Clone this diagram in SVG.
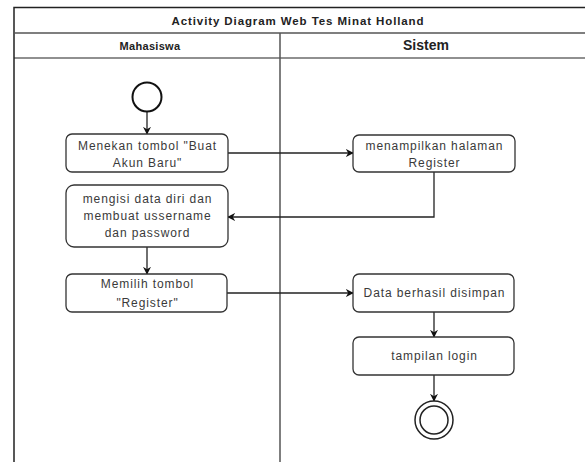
<svg xmlns="http://www.w3.org/2000/svg" width="585" height="462" viewBox="0 0 585 462">
<defs>
<style>
.frame{fill:none;stroke:#222;stroke-width:1.5}
.sep{stroke:#555;stroke-width:1.5}
.box{fill:#fff;stroke:#333;stroke-width:1.3}
.t{font-family:"Liberation Sans",Arial,sans-serif;font-size:12px;letter-spacing:0.9px;fill:#3a3a3a;text-anchor:middle}
.h{font-family:"Liberation Sans",Arial,sans-serif;font-weight:bold;fill:#222;text-anchor:middle}
.c{fill:none;stroke:#222;stroke-width:1.3}
</style>
<marker id="arr" viewBox="0 0 10 10" refX="9" refY="5" markerWidth="8" markerHeight="8" markerUnits="userSpaceOnUse" orient="auto">
<path d="M0,0 L10,5 L0,10 L3,5 Z" fill="#111"/>
</marker>
</defs>
<rect width="585" height="462" fill="#fff"/>
<g id="pool">
<path class="frame" d="M590,7.5 H14 V470"/>
<line class="sep" x1="14" y1="33" x2="590" y2="33"/>
<line class="sep" x1="14" y1="58" x2="590" y2="58" style="stroke:#222;stroke-width:1.2"/>
<line class="sep" x1="280" y1="33" x2="280" y2="470"/>
<text class="h" x="298" y="25" font-size="11.5" letter-spacing="0.9">Activity Diagram Web Tes Minat Holland</text>
<text class="h" x="150" y="50" font-size="11" letter-spacing="0.3">Mahasiswa</text>
<text class="h" x="426" y="50" font-size="14">Sistem</text>
</g>
<g id="connectors">
<line class="c" x1="147" y1="112" x2="147" y2="134" marker-end="url(#arr)"/>
<line class="c" x1="228" y1="153" x2="353" y2="153" marker-end="url(#arr)"/>
<polyline class="c" points="434,172 434,217 228,217" marker-end="url(#arr)"/>
<line class="c" x1="147" y1="247" x2="147" y2="274" marker-end="url(#arr)"/>
<line class="c" x1="227" y1="293" x2="353" y2="293" marker-end="url(#arr)"/>
<line class="c" x1="434" y1="312" x2="434" y2="337" marker-end="url(#arr)"/>
<line class="c" x1="434" y1="375" x2="434" y2="401" marker-end="url(#arr)"/>
</g>
<g id="start">
<circle cx="147" cy="97" r="14.5" fill="#fff" stroke="#111" stroke-width="2"/>
</g>
<g id="n1">
<rect class="box" x="66" y="134" width="162" height="38" rx="6"/>
<text class="t" x="147.5" y="150">Menekan tombol "Buat</text>
<text class="t" x="147.5" y="167">Akun Baru"</text>
</g>
<g id="n2">
<rect class="box" x="66" y="185" width="162" height="62" rx="8"/>
<text class="t" x="147.5" y="203">mengisi data diri dan</text>
<text class="t" x="147.5" y="220">membuat ussername</text>
<text class="t" x="147.5" y="237">dan password</text>
</g>
<g id="n3">
<rect class="box" x="353" y="135" width="162" height="37" rx="6"/>
<text class="t" x="434.5" y="150">menampilkan halaman</text>
<text class="t" x="434.5" y="167">Register</text>
</g>
<g id="n4">
<rect class="box" x="66" y="274" width="161" height="38" rx="6"/>
<text class="t" x="147.5" y="288">Memilih tombol</text>
<text class="t" x="147.5" y="307">"Register"</text>
</g>
<g id="n5">
<rect class="box" x="353" y="274" width="161" height="38" rx="6"/>
<text class="t" x="434.5" y="297">Data berhasil disimpan</text>
</g>
<g id="n6">
<rect class="box" x="353" y="337" width="161" height="38" rx="6"/>
<text class="t" x="434.5" y="360">tampilan login</text>
</g>
<g id="end">
<circle cx="434" cy="420" r="19" fill="#fff" stroke="#222" stroke-width="1.5"/>
<circle cx="434" cy="420" r="14" fill="none" stroke="#222" stroke-width="1.5"/>
</g>
</svg>
